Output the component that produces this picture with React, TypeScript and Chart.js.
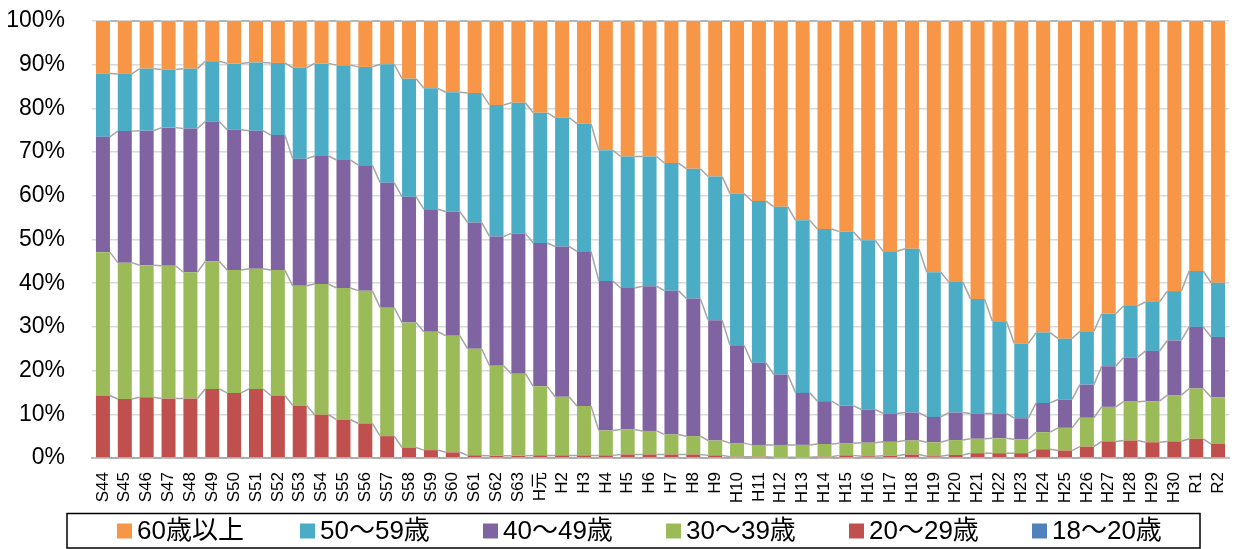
import React, { useEffect, useRef } from "react";
import { Chart, registerables } from "chart.js";

Chart.register(...registerables);

const categories = [
  "S44", "S45", "S46", "S47", "S48", "S49", "S50", "S51", "S52", "S53",
  "S54", "S55", "S56", "S57", "S58", "S59", "S60", "S61", "S62", "S63",
  "H元", "H2", "H3", "H4", "H5", "H6", "H7", "H8", "H9",
  "H10", "H11", "H12", "H13", "H14", "H15", "H16", "H17", "H18", "H19",
  "H20", "H21", "H22", "H23", "H24", "H25", "H26", "H27", "H28", "H29",
  "H30", "R1", "R2",
];

const seriesLabels = ["18～20歳", "20～29歳", "30～39歳", "40～49歳", "50～59歳", "60歳以上"];

const age18to20 = new Array(52).fill(0);

const age20s = [
  14.3, 13.5, 13.9, 13.6, 13.6, 15.8, 14.9, 15.8, 14.3, 12.0,
  9.9, 8.8, 7.9, 5.0, 2.4, 1.8, 1.3, 0.6, 0.5, 0.5,
  0.6, 0.6, 0.6, 0.6, 0.8, 0.8, 0.8, 0.8, 0.6,
  0.3, 0.3, 0.2, 0.2, 0.3, 0.6, 0.4, 0.5, 0.8, 0.4,
  0.7, 1.1, 1.1, 1.1, 2.0, 1.7, 2.6, 3.8, 4.0, 3.6,
  3.8, 4.4, 3.2,
];

const age30s = [
  32.8, 31.2, 30.2, 30.4, 28.9, 29.2, 28.1, 27.5, 28.7, 27.4,
  29.9, 30.1, 30.4, 29.4, 28.6, 27.1, 26.7, 24.4, 20.6, 18.8,
  15.8, 13.4, 11.3, 5.7, 5.7, 5.4, 4.6, 4.2, 3.4,
  3.1, 2.7, 2.8, 2.8, 2.9, 2.8, 3.1, 3.2, 3.2, 3.2,
  3.4, 3.3, 3.4, 3.2, 3.9, 5.2, 6.6, 7.9, 8.9, 9.4,
  10.6, 11.5, 10.7,
];

const age40s = [
  26.4, 30.1, 30.8, 31.6, 32.9, 32.0, 32.1, 31.6, 30.9, 29.1,
  29.3, 29.3, 28.7, 28.6, 28.8, 28.0, 28.4, 28.9, 29.6, 32.1,
  32.8, 34.4, 35.4, 34.2, 32.4, 33.1, 32.9, 31.5, 27.5,
  22.4, 18.8, 16.1, 11.9, 9.8, 8.6, 7.6, 6.5, 6.4, 5.8,
  6.3, 5.8, 5.7, 4.8, 6.7, 6.5, 7.6, 9.3, 10.1, 11.5,
  12.5, 14.1, 13.8,
];

const age50s = [
  14.5, 13.1, 14.2, 13.3, 13.7, 13.8, 15.2, 15.6, 16.5, 20.8,
  21.2, 21.7, 22.5, 27.1, 27.0, 27.7, 27.3, 29.6, 30.1, 29.9,
  29.8, 29.5, 29.2, 29.9, 30.1, 29.7, 29.2, 29.7, 32.9,
  34.7, 37.0, 38.4, 39.5, 39.4, 39.8, 38.7, 37.1, 37.5, 33.1,
  29.9, 26.2, 21.1, 17.1, 16.1, 13.9, 12.2, 12.0, 11.8, 11.2,
  11.3, 12.8, 12.4,
];

const age60plus = [
  12.0, 12.1, 10.9, 11.1, 10.9, 9.2, 9.7, 9.5, 9.6, 10.7,
  9.7, 10.1, 10.5, 9.9, 13.2, 15.4, 16.3, 16.5, 19.2, 18.7,
  21.0, 22.1, 23.5, 29.6, 31.0, 31.0, 32.5, 33.8, 35.6,
  39.5, 41.2, 42.5, 45.6, 47.6, 48.2, 50.2, 52.7, 52.1, 57.5,
  59.7, 63.6, 68.7, 73.8, 71.3, 72.7, 71.0, 67.0, 65.2, 64.3,
  61.8, 57.2, 59.9,
];

const yTicks = [0, 10, 20, 30, 40, 50, 60, 70, 80, 90, 100];

const colors = ["#4F81BD", "#C0504D", "#9BBB59", "#8064A2", "#4BACC6", "#F79646"];

const SANS = "'Liberation Sans', 'Noto Sans CJK JP', sans-serif";

const seriesLinesPlugin = {
  id: "seriesLines",
  afterDatasetsDraw(chart: any) {
    const ctx = chart.ctx;
    ctx.save();
    ctx.strokeStyle = "#A6A6A6";
    ctx.lineWidth = 1.5;
    chart.data.datasets.forEach((_ds: any, di: number) => {
      const meta = chart.getDatasetMeta(di);
      if (meta.hidden) return;
      ctx.beginPath();
      for (let i = 0; i < meta.data.length - 1; i++) {
        const a = meta.data[i];
        const b = meta.data[i + 1];
        ctx.moveTo(a.x + a.width / 2, a.y);
        ctx.lineTo(b.x - b.width / 2, b.y);
      }
      ctx.stroke();
    });
    ctx.restore();
  },
};

const boxLegendPlugin = {
  id: "boxLegend",
  afterDraw(chart: any) {
    const ctx = chart.ctx;
    const boxLeft = 67;
    const boxRight = 1200;
    const boxTop = 513.5;
    const boxBottom = 548;
    const firstMarker = 117;
    const pitch = 183;
    const cy = 531;
    ctx.save();
    ctx.strokeStyle = "#000";
    ctx.lineWidth = 1.5;
    ctx.strokeRect(boxLeft, boxTop, boxRight - boxLeft, boxBottom - boxTop);
    ctx.font = `26px ${SANS}`;
    ctx.textBaseline = "middle";
    ctx.textAlign = "left";
    const ds = chart.data.datasets;
    for (let k = 0; k < ds.length; k++) {
      const d = ds[ds.length - 1 - k];
      const x = firstMarker + k * pitch;
      ctx.fillStyle = d.backgroundColor;
      ctx.fillRect(x, cy - 7.5, 15, 15);
      ctx.fillStyle = "#000";
      ctx.fillText(d.label, x + 20, cy + 1);
    }
    ctx.restore();
  },
};

export default function App() {
  const ref = useRef<HTMLCanvasElement | null>(null);

  useEffect(() => {
    document.body.style.margin = "0";
    const series = [age18to20, age20s, age30s, age40s, age50s, age60plus];
    const chart = new Chart(ref.current as HTMLCanvasElement, {
      type: "bar",
      data: {
        labels: categories,
        datasets: series.map((values, i) => ({
          label: seriesLabels[i],
          data: values,
          backgroundColor: colors[i],
          borderWidth: 0,
          barPercentage: 0.64,
          categoryPercentage: 1,
        })),
      },
      options: {
        responsive: false,
        animation: false,
        devicePixelRatio: 1,
        layout: { padding: { left: 0, right: 5, top: 21, bottom: 38 } },
        plugins: {
          legend: { display: false },
          tooltip: { enabled: false },
        },
        scales: {
          x: {
            stacked: true,
            grid: { display: false, drawTicks: false },
            border: { display: true, color: "#BFBFBF", width: 2 },
            ticks: {
              autoSkip: false,
              minRotation: 90,
              maxRotation: 90,
              padding: 14,
              color: "#000",
              font: { family: SANS, size: 17 },
            },
            afterFit: (scale: any) => {
              scale.height = 53;
              scale.paddingLeft = 0;
              scale.paddingRight = 0;
            },
          },
          y: {
            stacked: true,
            min: 0,
            max: 100,
            afterBuildTicks: (scale: any) => {
              scale.ticks = yTicks.map((v) => ({ value: v }));
            },
            grid: { color: "#D9D9D9", lineWidth: 1.5, drawTicks: false },
            border: { display: false },
            ticks: {
              padding: 27,
              color: "#000",
              font: { family: SANS, size: 23 },
              callback: (v: any) => `${v}%`,
            },
            afterFit: (scale: any) => {
              scale.width = 92;
              scale.paddingTop = 0;
              scale.paddingBottom = 0;
            },
          },
        },
      },
      plugins: [seriesLinesPlugin, boxLegendPlugin],
    });
    return () => chart.destroy();
  }, []);

  return (
    <div style={{ width: 1234, height: 549 }}>
      <canvas ref={ref} width={1234} height={549} style={{ display: "block" }} />
    </div>
  );
}
